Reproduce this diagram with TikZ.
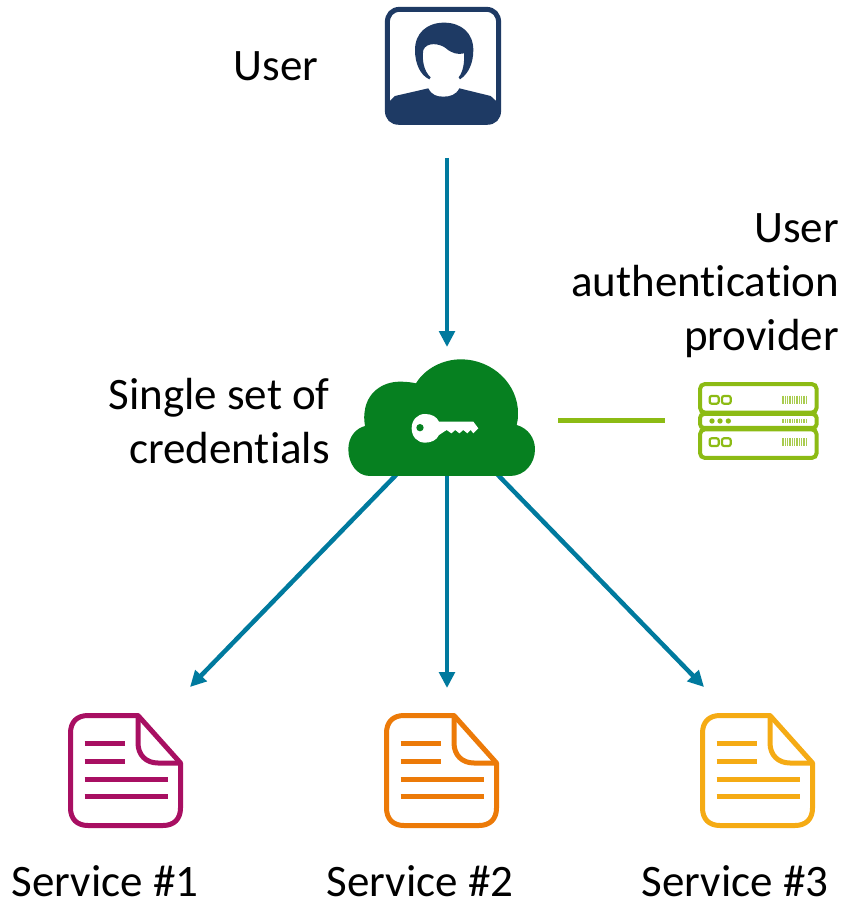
\documentclass[tikz,border=0pt]{standalone}
\usepackage{fontspec}
\setmainfont[Ligatures=CommonOff]{Carlito}
\usetikzlibrary{arrows.meta}
\definecolor{flow}{HTML}{007A9E}
\definecolor{navy}{HTML}{1E3A64}
\definecolor{cloudgreen}{HTML}{068020}
\definecolor{lime}{HTML}{8CBB14}
\definecolor{berry}{HTML}{A80F62}
\definecolor{orangedoc}{HTML}{EC7A08}
\definecolor{yellowdoc}{HTML}{F5AB14}
\tikzset{
  x=1pt,y=-1pt,
  label text/.style={font=\fontsize{45}{54}\selectfont,inner sep=0pt,text=black},
  flowarrow/.style={draw=flow,line width=4.5pt,-{Triangle[length=16pt,width=15.5pt]}},
  zoomed/.style={x=0.3333pt,y=-0.3333pt},
  docicon/.pic={
    \draw[line width=5pt,line join=round,pic actions]
      (20,2.5) -- (70,2.5) -- (112.5,50) -- (112.5,95)
      .. controls (112.5,106) and (106,112.5) .. (95,112.5) -- (20,112.5)
      .. controls (9,112.5) and (2.5,106) .. (2.5,95) -- (2.5,20)
      .. controls (2.5,9) and (9,2.5) .. (20,2.5) -- cycle;
    \draw[line width=5pt,line join=round,pic actions]
      (70,2.5) -- (70,30) .. controls (70,42) and (78,50) .. (90,50) -- (112.5,50);
    \draw[line width=5pt,pic actions] (16.5,30) -- (57,30) (16.5,48) -- (57,48)
      (16.5,66) -- (100,66) (16.5,83) -- (100,83);
  }
}
\begin{document}
\begin{tikzpicture}
\useasboundingbox (0,0) rectangle (844,901);
\fill[white] (0,0) rectangle (844,901);

% anchors for connectors
\coordinate (userout) at (447,158);
\coordinate (cloudin) at (447,347);
\coordinate (cloudA) at (397,474);
\coordinate (cloudB) at (447,474);
\coordinate (cloudC) at (497,474);
\coordinate (svcA) at (190,687);
\coordinate (svcB) at (447,688);
\coordinate (svcC) at (704,687);
\coordinate (cloudR) at (558,420);
\coordinate (serverL) at (665,420);

\draw[flowarrow] (userout) -- (cloudin);
\draw[flowarrow] (cloudA) -- (svcA);
\draw[flowarrow] (cloudB) -- (svcB);
\draw[flowarrow] (cloudC) -- (svcC);
\draw[lime,line width=5pt] (cloudR) -- (serverL);

% user icon
\begin{scope}[shift={(370,0)},zoomed]
  \draw[navy,line width=5pt] (90,28) -- (348,28)
    .. controls (372,28) and (386,44) .. (386,68) -- (386,330)
    .. controls (386,354) and (372,367) .. (350,367) -- (88,367)
    .. controls (66,367) and (52,354) .. (52,330) -- (52,68)
    .. controls (52,44) and (66,28) .. (90,28) -- cycle;
  \fill[navy] (52,310) -- (75,288) -- (175,265)
    .. controls (185,285) and (200,290) .. (220,290)
    .. controls (240,290) and (258,285) .. (268,265)
    -- (362,288) -- (386,310) -- (386,330)
    .. controls (386,354) and (372,367) .. (350,367) -- (88,367)
    .. controls (66,367) and (52,354) .. (52,330) -- cycle;
  \fill[navy] (178,238)
    .. controls (150,225) and (135,190) .. (135,150)
    .. controls (135,100) and (170,68) .. (222,68)
    .. controls (275,68) and (310,100) .. (310,150)
    .. controls (310,190) and (295,222) .. (270,238)
    -- (266,232)
    .. controls (280,215) and (284,185) .. (282,160)
    .. controls (265,165) and (245,160) .. (228,145)
    .. controls (210,130) and (170,125) .. (160,150)
    .. controls (155,180) and (162,215) .. (182,232) -- cycle;
\end{scope}

% cloud
\begin{scope}[shift={(340,350)},zoomed]
  \fill[cloudgreen] (90,378)
    .. controls (50,378) and (25,340) .. (25,298)
    .. controls (25,260) and (48,235) .. (75,228)
    .. controls (72,210) and (72,195) .. (74,185)
    .. controls (80,130) and (125,95) .. (180,95)
    .. controls (198,95) and (215,97) .. (228,100)
    .. controls (255,55) and (310,28) .. (362,28)
    .. controls (460,28) and (535,105) .. (534,190)
    .. controls (534,205) and (533,215) .. (530,225)
    .. controls (565,235) and (585,265) .. (585,298)
    .. controls (585,340) and (555,378) .. (510,378) -- cycle;
  \fill[white] (255,192)
    .. controls (275,192) and (290,200) .. (297,215)
    -- (400,215) -- (415,235) -- (400,250) -- (392,240) -- (382,250) -- (370,240)
    -- (358,250) -- (346,240) -- (334,250) -- (320,240) -- (297,255)
    .. controls (290,270) and (275,278) .. (255,278)
    .. controls (232,278) and (215,260) .. (215,235)
    .. controls (215,210) and (232,192) .. (255,192) -- cycle;
  \fill[cloudgreen] (240,233) circle[radius=11];
\end{scope}

% server icon
\begin{scope}[shift={(680,370)},zoomed]
  \begin{scope}[draw=lime,line width=4pt]
    \draw[rounded corners=5pt] (60,42) rectangle (410,128);
    \draw[rounded corners=4pt] (60,132) rectangle (410,174);
    \draw[rounded corners=5pt] (60,178) rectangle (410,264);
  \end{scope}
  \begin{scope}[draw=lime,line width=2.2pt]
    \draw[rounded corners=2pt] (89,78) rectangle (116,101);
    \draw[rounded corners=2pt] (126,78) rectangle (152,101);
    \draw[rounded corners=2pt] (89,205) rectangle (116,228);
    \draw[rounded corners=2pt] (126,205) rectangle (152,228);
  \end{scope}
  \fill[lime] (96,153) circle[radius=8] (120,153) circle[radius=8] (145,153) circle[radius=8];
  \foreach \bx in {309,316,...,379}{
    \draw[lime!75,line width=1.1pt] (\bx,77) -- (\bx,102);
    \draw[lime!75,line width=1.1pt] (\bx,146) -- (\bx,160);
    \draw[lime!75,line width=1.1pt] (\bx,205) -- (\bx,229);
  }
\end{scope}

% service icons
\pic[draw=berry] at (68,713) {docicon};
\pic[draw=orangedoc] at (384,713) {docicon};
\pic[draw=yellowdoc] at (700,713) {docicon};

% labels
\node[label text,anchor=base] (userlabel) at (276,81) {User};
\node[label text,anchor=east,align=right] (providerlabel) at (839,286) {User\\authentication\\provider};
\node[label text,anchor=east,align=right] (credlabel) at (330,421) {Single set of\\credentials};
\node[label text,anchor=base] (svc1) at (105,896) {Service \#1};
\node[label text,anchor=base] (svc2) at (420,896) {Service \#2};
\node[label text,anchor=base] (svc3) at (735,896) {Service \#3};
\end{tikzpicture}
\end{document}
